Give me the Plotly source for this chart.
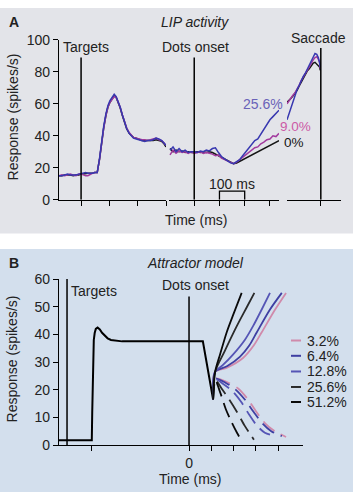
import plotly.graph_objects as go

# ---------------- DATA ----------------
# Panel A: LIP activity, three alignment segments (ms relative to event)
t_targets = [-78,-68,-58,-48,-38,-28,-18,-8,0,8,16,24,32,40,48,57,65,72,80,88,95,102,110,117,124,131,138,146,154,161,170,178,185,195,205,215,225,235,245,255,265,275,285,293,300]
a1_0  = [15,15,15.5,15.5,15.5,15,15.5,15.5,16,16,16.5,16.5,16.5,16.5,17,17,25,35,45,53,58,61,63.5,65,64,61,57.5,52.5,48,44.5,41.5,40,39,38.5,37.5,37,37,37,37,37,37.5,37,36.5,35,33]
a1_9  = [15,15.5,15,15.5,16,15.5,15,16,16,15.5,15,15,16,16.5,17,17,25,35,45,53,58,61,63,64.5,64,61,58,53,48.5,45,42,40,39,38.5,38,37.5,37.5,37,37.5,38,38.5,37.5,37,35.5,34]
a1_25 = [15,15,15.5,16,15.5,15.5,15.5,16,16.5,17,17,16.5,16.5,16.5,17,17,25.5,36,46,54,59,62,64.5,66,64.5,61.5,58,53,48,44.5,41.5,39.5,38.5,38,37.5,37,36.5,37,37,37.5,38.5,38,37,35.5,34]

t_dots = [-96,-84,-72,-60,-48,-36,-24,-12,0,12,24,36,48,60,72,84,96,108,120,132,144,156,168,180,192,204,216,228,240,252,264,276,288,300,312,324,336]
a2_0  = [32,30,31,30,30.5,29.5,30,29.5,29.5,30,29.5,30,29.5,30,29.5,28.5,28,26.5,25.5,24.5,23.5,22.5,23,24,25,26,27.5,28.5,29.5,30.5,31,32,33,34,35,36,37]
a2_9  = [28,31,29,30.5,29.5,30,29,30,29,29.5,30,29,29.5,29,28.5,27.5,28,26,25,24,23,22.5,23.5,25,26.5,28,29.5,31,32.5,33,35,36,37.5,38,40,39.5,41.5]
a2_25 = [31,33,30,32,30,31,29.5,30,30,29.5,30.5,30,31,30.5,32,32.5,29.5,27,25.5,24,23,22.5,23.5,25,27.5,30,32,34.5,37,38,41,44,47,50,52,54,56]

t_sacc = [-134,-126,-118,-110,-102,-94,-86,-78,-70,-62,-54,-46,-38,-30,-23,-16,-10,-5,-2]
a3_0  = [61,62,63.5,65,66.5,68.5,71,73.5,76,78.5,80.5,82,84,85.5,86,85,84,83,81]
a3_9  = [60,62,64,65.5,67,69,71.5,74.5,77,79,81,83,85.5,87.5,89,89.5,88,86,82]
a3_25 = [50,54,58,62,66,69,71.5,74.5,77,79,81.5,84,87,90,91.5,91,89,86,83]

coh_A = ["0%", "9.0%", "25.6%"]
scale_bar_ms = [100, 200]

# Panel B: attractor model (ms relative to dots onset)
t_common = [-583,-436,-434,-432,-430,-427,-423,-418,-410,-400,-390,-378,-365,-350,-330,-300,-250,-150,0,62,108]
r_common = [1.8,1.8,12,24,33,38,40.5,42,42.5,41.8,40.6,39.5,38.6,38,37.7,37.5,37.5,37.5,37.5,37.5,16.5]

coh_B = ["3.2%", "6.4%", "12.8%", "25.6%", "51.2%"]
up_t = {
    "51.2%": [108,117,140,169,200,236],
    "25.6%": [108,117,160,214,260,293],
    "12.8%": [108,117,150,197,250,287,332,363],
    "6.4%":  [108,117,170,229,270,304,363,416],
    "3.2%":  [108,117,170,242,290,326,386,435],
}
up_r = {
    "51.2%": [16.5,26.5,33,40.8,47.5,55],
    "25.6%": [16.5,26.5,34,43,50,55],
    "12.8%": [16.5,26.5,28.8,32.7,38,43,50,55],
    "6.4%":  [16.5,26.5,28.5,32,36,40.8,49,55],
    "3.2%":  [16.5,26.5,28,31.5,36,40.8,49,55],
}
dn_t = {
    "51.2%": [108,118,140,165,190,215,233],
    "25.6%": [108,118,150,180,215,250,291],
    "12.8%": [108,118,155,195,235,270,305,340,363],
    "6.4%":  [108,118,165,210,250,290,330,370,416],
    "3.2%":  [108,118,170,220,260,300,340,380,435],
}
dn_r = {
    "51.2%": [16.5,23.5,19,13,8.5,4.5,2],
    "25.6%": [16.5,23.5,20,16.5,12,7,2],
    "12.8%": [16.5,23.8,22,19.5,15.5,11,7,4.5,3.8],
    "6.4%":  [16.5,24,22.5,20,16.5,12,7.8,5,3.3],
    "3.2%":  [16.5,24,22.8,20.5,17,12.3,8,5.3,3],
}

# ---------------- STYLE ----------------
W, H = 353, 500
def px(x): return x / W
def py(y): return 1 - y / H

FONT = "Liberation Sans, Arial, sans-serif"
col_A = {"0%": "#151515", "9.0%": "#a23a9e", "25.6%": "#3838b0"}
lab_A = {"0%": "#151515", "9.0%": "#cc5aa6", "25.6%": "#6a62b8"}
col_B = {"3.2%": "#d08aab", "6.4%": "#3f3fa2", "12.8%": "#5555b5", "25.6%": "#2a2a2a", "51.2%": "#0a0a0a"}

fig = go.Figure()

segA = [
    ("x", t_targets, {"0%": a1_0, "9.0%": a1_9, "25.6%": a1_25}),
    ("x2", t_dots, {"0%": a2_0, "9.0%": a2_9, "25.6%": a2_25}),
    ("x3", t_sacc, {"0%": a3_0, "9.0%": a3_9, "25.6%": a3_25}),
]
for xa, tt, series in segA:
    for c in coh_A:
        fig.add_trace(go.Scatter(x=tt, y=series[c], mode="lines", xaxis=xa, yaxis="y",
                                 line=dict(color=col_A[c], width=1.5), showlegend=False, hoverinfo="skip"))

# scale bar
fig.add_trace(go.Scatter(x=[scale_bar_ms[0], scale_bar_ms[0], scale_bar_ms[1], scale_bar_ms[1]],
                         y=[0, 5.3, 5.3, 0], mode="lines", xaxis="x2", yaxis="y",
                         line=dict(color="black", width=1.3), showlegend=False, hoverinfo="skip"))

# Panel B
fig.add_trace(go.Scatter(x=t_common, y=r_common, mode="lines", xaxis="x4", yaxis="y2",
                         line=dict(color="black", width=2), showlegend=False, hoverinfo="skip"))
for c in coh_B:
    fig.add_trace(go.Scatter(x=dn_t[c], y=dn_r[c], mode="lines", xaxis="x4", yaxis="y2",
                             line=dict(color=col_B[c], width=1.8, dash="15px,7px", shape="spline", smoothing=0.8),
                             showlegend=False, hoverinfo="skip"))
for c in coh_B:
    fig.add_trace(go.Scatter(x=up_t[c], y=up_r[c], mode="lines", xaxis="x4", yaxis="y2",
                             line=dict(color=col_B[c], width=1.8, shape="spline", smoothing=0.8),
                             showlegend=False, hoverinfo="skip"))

axis_common = dict(showline=True, linecolor="black", linewidth=1.3, ticks="outside", ticklen=5,
                   tickwidth=1.3, tickcolor="black", showgrid=False, zeroline=False,
                   tickfont=dict(family=FONT, size=14, color="#222"))

fig.update_layout(
    width=W, height=H, margin=dict(l=0, r=0, t=0, b=0),
    paper_bgcolor="white", plot_bgcolor="rgba(0,0,0,0)",
    font=dict(family=FONT, size=14, color="#222"),
    xaxis=dict(domain=[px(59), px(166)], range=[-78, 300], anchor="y", tickvals=[0, 100, 200, 300], showticklabels=False, **axis_common),
    xaxis2=dict(domain=[px(169), px(279)], range=[-100, 336], anchor="y", tickvals=[0, 100, 200, 300], showticklabels=False, **axis_common),
    xaxis3=dict(domain=[px(287), px(341)], range=[-134, 80], anchor="y", tickvals=[0], showticklabels=False, **axis_common),
    yaxis=dict(domain=[py(198), py(33)], range=[0, 100], anchor="x", tickvals=[0, 20, 40, 60, 80, 100], **axis_common),
    xaxis4=dict(domain=[px(59), px(303)], range=[-583, 511], anchor="y2", tickvals=[-437, 0, 100, 200, 300, 400],
                ticktext=["", "0", "", "", "", ""], **axis_common),
    yaxis2=dict(domain=[py(451.7), py(280)], range=[0, 60], anchor="x4", tickvals=[0, 10, 20, 30, 40, 50, 60], **axis_common),
)

shapes = [
    dict(type="rect", xref="paper", yref="paper", x0=0, x1=1, y0=py(233), y1=1, fillcolor="#e3e4e9", line=dict(width=0), layer="below"),
    dict(type="rect", xref="paper", yref="paper", x0=0, x1=1, y0=0, y1=py(249), fillcolor="#d3dfed", line=dict(width=0), layer="below"),
    dict(type="line", xref="x", yref="y", x0=0, x1=0, y0=0, y1=89, line=dict(color="black", width=1.5)),
    dict(type="line", xref="x2", yref="y", x0=0, x1=0, y0=0, y1=89, line=dict(color="black", width=1.5)),
    dict(type="line", xref="x3", yref="y", x0=0, x1=0, y0=0, y1=95, line=dict(color="black", width=1.5)),
    dict(type="line", xref="x4", yref="y2", x0=-547, x1=-547, y0=0, y1=60, line=dict(color="black", width=1.5)),
    dict(type="line", xref="x4", yref="y2", x0=0, x1=0, y0=0, y1=53.7, line=dict(color="black", width=1.5)),
]
leg_y = [343.5, 359.3, 375.5, 391.5, 407]
for c, yy in zip(coh_B, leg_y):
    shapes.append(dict(type="line", xref="paper", yref="paper", x0=px(291), x1=px(301), y0=py(yy), y1=py(yy),
                       line=dict(color=col_B[c], width=2)))
fig.update_layout(shapes=shapes)

def ann(text, x, y, xanchor="center", size=14, color="#222", angle=0):
    return dict(text=text, x=px(x), y=py(y), xref="paper", yref="paper", xanchor=xanchor, yanchor="middle",
                showarrow=False, textangle=angle, font=dict(family=FONT, size=size, color=color))

anns = [
    ann("<b>A</b>", 7, 14, xanchor="left"),
    ann("<i>LIP activity</i>", 195, 14),
    ann("Targets", 61, 40, xanchor="left"),
    ann("Dots onset", 195, 40),
    ann("Saccade", 318, 31),
    ann("100 ms", 232, 182),
    ann("Time (ms)", 196, 219),
    ann("Response (spikes/s)", 13, 113, angle=-90),
    ann("25.6%", 263, 99, color=lab_A["25.6%"]),
    ann("9.0%", 295, 122, size=13.5, color=lab_A["9.0%"]),
    ann("0%", 294, 138.5, size=13.5, color=lab_A["0%"]),
    ann("<b>B</b>", 7, 263, xanchor="left"),
    ann("<i>Attractor model</i>", 195, 263),
    ann("Targets", 69, 292, xanchor="left"),
    ann("Dots onset", 195, 286),
    ann("Time (ms)", 190, 487),
    ann("Response (spikes/s)", 12, 363, angle=-90),
]
for c, yy in zip(coh_B, leg_y):
    anns.append(ann(c, 305, yy, xanchor="left"))
fig.update_layout(annotations=anns)

fig.write_html("out.html", config={"displayModeBar": False},
               post_script="document.body.style.margin='0px';document.body.style.overflow='hidden';")
